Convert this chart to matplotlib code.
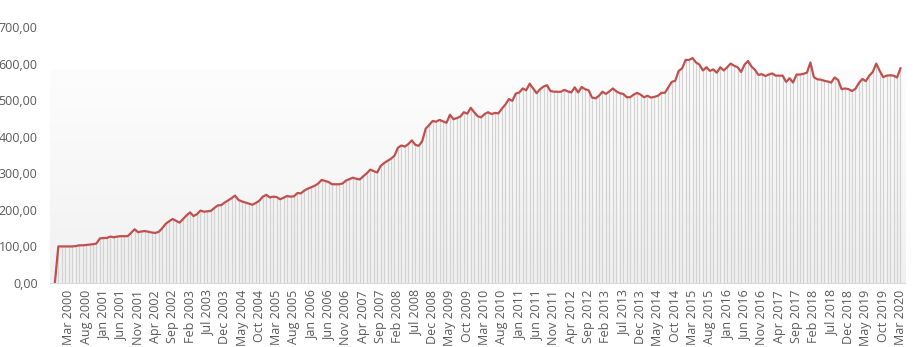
import numpy as np
import pandas as pd
import matplotlib
matplotlib.use("Agg")
import matplotlib.pyplot as plt

# monthly index values, Nov 1999 .. Mar 2020
start_month = "1999-11"
values = [
    0, 100, 100, 100, 100, 100, 101, 103, 103, 104, 105, 106, 108, 122, 123, 123,
    127, 125, 127, 128, 128, 128, 137, 147, 139, 141, 142, 140, 138, 137, 140, 150,
    162, 169, 175, 170, 165, 175, 185, 193, 183, 188, 198, 195, 196, 197, 205, 212,
    213, 220, 226, 232, 239, 227, 223, 220, 217, 214, 219, 225, 236, 241, 234, 236,
    235, 229, 233, 238, 236, 237, 246, 245, 253, 258, 262, 266, 272, 282, 279, 276,
    270, 270, 270, 272, 280, 284, 288, 285, 283, 292, 300, 310, 306, 302, 320, 328,
    334, 340, 348, 370, 376, 373, 380, 390, 378, 375, 388, 422, 432, 443, 441, 446,
    442, 438, 460, 448, 451, 455, 467, 463, 479, 467, 456, 453, 462, 467, 462, 465,
    464, 477, 488, 503, 498, 518, 521, 532, 527, 545, 532, 519, 530, 537, 541, 525,
    523, 523, 523, 528, 524, 521, 535, 521, 536, 530, 527, 507, 505, 512, 523, 517,
    524, 532, 524, 519, 517, 508, 508, 515, 520, 515, 508, 512, 507, 509, 512, 520,
    520, 535, 550, 553, 580, 587, 610, 610, 615, 603, 597, 581, 590, 580, 584, 575,
    590, 581, 590, 600, 594, 590, 577, 597, 607, 592, 583, 569, 571, 566, 570, 573,
    567, 567, 567, 550, 560, 548, 570, 570, 572, 575, 603, 563, 557, 556, 553, 551,
    548, 562, 555, 530, 532, 530, 525, 531, 547, 558, 552, 567, 577, 600, 580, 563,
    567, 568, 567, 562, 587,
]
months = pd.period_range(start_month, periods=len(values), freq="M")
month_labels = [m.strftime("%b %Y") for m in months]
y_ticks = [0, 100, 200, 300, 400, 500, 600, 700]

plt.rcParams['font.family'] = ['Open Sans', 'DejaVu Sans']

fig = plt.figure(figsize=(9.13, 3.47), dpi=100)
ax = fig.add_axes([50 / 913, (347 - 283) / 347, 855 / 913, 256 / 347])

x = np.arange(len(values))
xmin, xmax = -1.4, len(values) + 0.3

# soft grey gradient in plot area
grad = np.linspace(0, 1, 256).reshape(-1, 1)
cmap = matplotlib.colors.LinearSegmentedColormap.from_list("bg", ["#f1f1f1", "#fdfdfd"])
ax.imshow(grad, cmap=cmap, origin="lower", aspect="auto",
          extent=(xmin, xmax, 0, 580), zorder=0)

ax.vlines(x, 0, values, color="#d2d2d2", linewidth=0.9, zorder=1)
ax.plot(x, values, color="#c0504d", linewidth=1.6, zorder=3, solid_joinstyle="round")

ax.set_xlim(xmin, xmax)
ax.set_ylim(0, 700)
ax.set_yticks(y_ticks)
ax.set_yticklabels([f"{v:.2f}".replace(".", ",") for v in y_ticks])

tick_pos = x[4::5]
ax.set_xticks(tick_pos)
ax.set_xticklabels([month_labels[i] for i in tick_pos], rotation=90)

for side in ["top", "right", "left"]:
    ax.spines[side].set_visible(False)
ax.spines["bottom"].set_color("#d9d9d9")
ax.tick_params(axis="both", length=0, colors="#595959", labelsize=9)
ax.tick_params(axis="y", pad=9)
ax.tick_params(axis="x", pad=5)

fig.savefig("out.png", dpi=100)
